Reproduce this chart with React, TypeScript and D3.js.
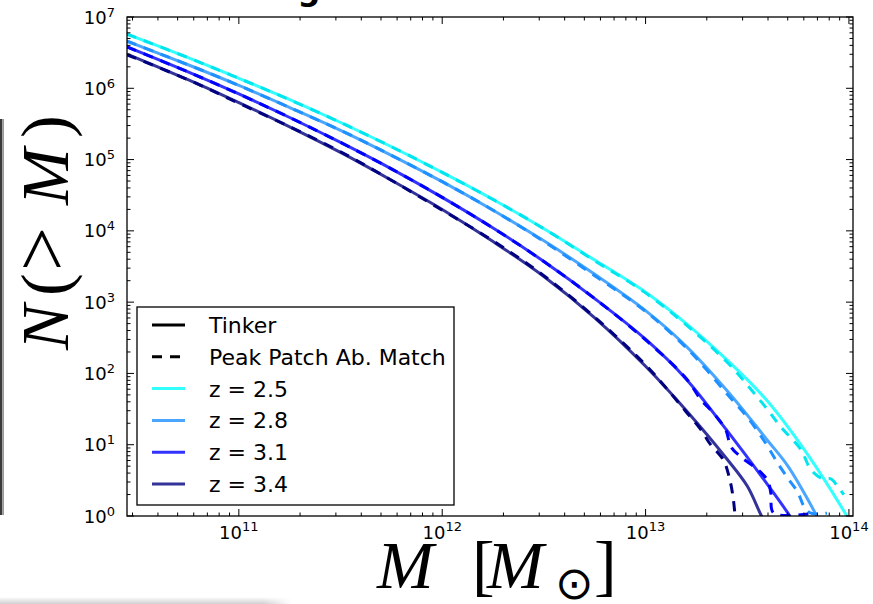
import React from "react";
import * as d3 from "d3";

const W = 873;
const H = 604;
const plot = { left: 127, top: 17, right: 853, bottom: 516 };

// axis extents (log10 of halo mass in solar masses, log10 of cumulative count)
const massExpRange = [10.45, 14.02];
const countExpRange = [0, 7];

const redshiftLabels = ["z = 2.5", "z = 2.8", "z = 3.1", "z = 3.4"];
const tinkerColors = ["#33ffff", "#4ba6ff", "#3333ff", "#333399"];
const peakColors = ["#00e5ee", "#1e90ff", "#0000ff", "#000080"];

// Tinker mass function, cumulative counts: log10 M and log10 N(>M)
const tinkerLogM_z25 = [10.45, 10.75, 11.0, 11.25, 11.5, 11.75, 12.0, 12.25, 12.5, 12.75, 13.0, 13.2, 13.4, 13.6, 13.8, 13.99, 14.02];
const tinkerLogN_z25 = [6.76, 6.43, 6.14, 5.84, 5.52, 5.18, 4.82, 4.44, 4.03, 3.59, 3.14, 2.7, 2.19, 1.61, 0.85, 0.0, -0.15];
const tinkerLogM_z28 = [10.45, 10.75, 11.0, 11.25, 11.5, 11.75, 12.0, 12.25, 12.5, 12.75, 13.0, 13.2, 13.4, 13.6, 13.7, 13.8, 13.86];
const tinkerLogN_z28 = [6.66, 6.33, 6.04, 5.73, 5.41, 5.06, 4.69, 4.29, 3.86, 3.39, 2.88, 2.38, 1.76, 1.06, 0.7, 0.22, -0.1];
const tinkerLogM_z31 = [10.45, 10.75, 11.0, 11.25, 11.5, 11.75, 12.0, 12.25, 12.5, 12.75, 13.0, 13.2, 13.4, 13.6, 13.7, 13.73];
const tinkerLogN_z31 = [6.58, 6.23, 5.92, 5.59, 5.24, 4.87, 4.47, 4.04, 3.57, 3.05, 2.48, 1.92, 1.2, 0.44, 0.04, -0.1];
const tinkerLogM_z34 = [10.45, 10.75, 11.0, 11.25, 11.5, 11.75, 12.0, 12.25, 12.5, 12.75, 13.0, 13.2, 13.4, 13.5, 13.57, 13.6];
const tinkerLogN_z34 = [6.48, 6.12, 5.8, 5.46, 5.1, 4.71, 4.3, 3.85, 3.36, 2.78, 2.1, 1.48, 0.8, 0.42, 0.0, -0.15];

// Peak Patch abundance-matched counts
const peakLogM_z25 = [10.45, 10.75, 11.0, 11.25, 11.5, 11.75, 12.0, 12.25, 12.5, 12.75, 13.0, 13.2, 13.4, 13.532, 13.6, 13.665, 13.764, 13.813, 13.872, 13.911, 13.946, 13.975];
const peakLogN_z25 = [6.76, 6.43, 6.14, 5.84, 5.52, 5.18, 4.82, 4.44, 4.03, 3.58, 3.13, 2.68, 2.16, 1.73, 1.49, 1.25, 0.93, 0.65, 0.52, 0.52, 0.41, 0.3];
const peakLogM_z28 = [10.45, 10.75, 11.0, 11.25, 11.5, 11.75, 12.0, 12.25, 12.5, 12.75, 13.0, 13.2, 13.3, 13.404, 13.502, 13.591, 13.65, 13.7, 13.749, 13.778, 13.813, 13.892];
const peakLogN_z28 = [6.66, 6.33, 6.04, 5.73, 5.41, 5.06, 4.69, 4.29, 3.85, 3.37, 2.87, 2.36, 2.05, 1.7, 1.38, 1.02, 0.74, 0.53, 0.33, 0.14, 0.04, 0.04];
const peakLogM_z31 = [10.45, 10.75, 11.0, 11.25, 11.5, 11.75, 12.0, 12.25, 12.5, 12.75, 13.0, 13.2, 13.27, 13.335, 13.394, 13.42, 13.468, 13.552, 13.6, 13.616, 13.63, 13.83];
const peakLogN_z31 = [6.58, 6.23, 5.92, 5.59, 5.24, 4.87, 4.47, 4.04, 3.57, 3.05, 2.47, 1.93, 1.64, 1.44, 1.21, 0.97, 0.83, 0.65, 0.5, 0.32, 0.04, 0.04];
const peakLogM_z34 = [10.45, 10.75, 11.0, 11.25, 11.5, 11.75, 12.0, 12.25, 12.5, 12.75, 13.0, 13.1, 13.2, 13.27, 13.32, 13.38, 13.41, 13.43, 13.44];
const peakLogN_z34 = [6.47, 6.12, 5.79, 5.46, 5.11, 4.71, 4.29, 3.86, 3.37, 2.79, 2.12, 1.8, 1.46, 1.22, 1.0, 0.8, 0.56, 0.27, 0.0];

const tinkerSeries = [
  [tinkerLogM_z25, tinkerLogN_z25],
  [tinkerLogM_z28, tinkerLogN_z28],
  [tinkerLogM_z31, tinkerLogN_z31],
  [tinkerLogM_z34, tinkerLogN_z34],
];
const peakSeries = [
  [peakLogM_z25, peakLogN_z25],
  [peakLogM_z28, peakLogN_z28],
  [peakLogM_z31, peakLogN_z31],
  [peakLogM_z34, peakLogN_z34],
];

const tickFont = "'DejaVu Sans', sans-serif";
const mathFont = "'Liberation Serif', 'Times New Roman', serif";

export default function App() {
  const x = d3
    .scaleLog()
    .domain([10 ** massExpRange[0], 10 ** massExpRange[1]])
    .range([plot.left, plot.right]);
  const y = d3
    .scaleLog()
    .domain([10 ** countExpRange[0], 10 ** countExpRange[1]])
    .range([plot.bottom, plot.top]);

  const line = d3
    .line<[number, number]>()
    .x((d) => x(10 ** d[0]))
    .y((d) => y(10 ** d[1]))
    .curve(d3.curveCatmullRom.alpha(0.5));

  const toPairs = (ms: number[], ns: number[]) =>
    ms.map((m, i) => [m, ns[i]] as [number, number]);

  const isMajor = (v: number) => Math.abs(Math.log10(v) - Math.round(Math.log10(v))) < 1e-9;
  const xTicks = x.ticks().filter((v) => v >= x.domain()[0] && v <= x.domain()[1] * 1.0001);
  const yTicks = y.ticks();

  const majorLen = 7;
  const minorLen = 3.5;
  const axisColor = "#000";

  const legendX = 137;
  const legendY = 307;
  const legendW = 317;
  const legendH = 198;
  const rowY0 = 325;
  const rowStep = 31.8;
  const legendRows = [
    { label: "Tinker", color: "#000", dash: null as string | null },
    { label: "Peak Patch Ab. Match", color: "#000", dash: "10,8" },
    ...redshiftLabels.map((label, i) => ({ label, color: tinkerColors[i], dash: null as string | null })),
  ];

  return (
    <svg
      width={W}
      height={H}
      viewBox={`0 0 ${W} ${H}`}
      style={{ position: "absolute", left: 0, top: 0, background: "#fff" }}
    >
      <defs>
        <clipPath id="plot-clip">
          <rect x={plot.left} y={plot.top} width={plot.right - plot.left} height={plot.bottom - plot.top} />
        </clipPath>
        <linearGradient id="shadow-bottom" x1="0" y1="0" x2="0" y2="1">
          <stop offset="0" stopColor="#ffffff" />
          <stop offset="1" stopColor="#cfcfcf" />
        </linearGradient>
        <linearGradient id="shadow-fade" x1="0" y1="0" x2="1" y2="0">
          <stop offset="0.9" stopColor="#fff" stopOpacity="0" />
          <stop offset="1" stopColor="#fff" stopOpacity="1" />
        </linearGradient>
      </defs>

      {/* page edge remnants */}
      <rect x={0} y={119} width={2.2} height={396} fill="#3a3a3a" />
      <rect x={2.2} y={119} width={1.8} height={396} fill="#9a9a9a" />
      <rect x={0} y={597} width={292} height={7} fill="url(#shadow-bottom)" />
      <rect x={0} y={597} width={292} height={7} fill="url(#shadow-fade)" />

      {/* title descender peeking above the frame */}
      <text x={309} y={0} fontFamily={tickFont} fontWeight="bold" fontSize={32} textAnchor="middle">
        g
      </text>

      {/* curves */}
      <g clipPath="url(#plot-clip)" fill="none">
        {tinkerSeries.map(([ms, ns], i) => (
          <path key={`t${i}`} d={line(toPairs(ms, ns)) || ""} stroke={tinkerColors[i]} strokeWidth={3} />
        ))}
        {peakSeries.map(([ms, ns], i) => (
          <path
            key={`p${i}`}
            d={line(toPairs(ms, ns)) || ""}
            stroke={peakColors[i]}
            strokeWidth={3}
            strokeDasharray="10,8"
          />
        ))}
      </g>

      {/* frame */}
      <rect
        x={plot.left}
        y={plot.top}
        width={plot.right - plot.left}
        height={plot.bottom - plot.top}
        fill="none"
        stroke={axisColor}
        strokeWidth={1.3}
      />

      {/* ticks, inward on all four sides */}
      <g stroke={axisColor} strokeWidth={1}>
        {xTicks.map((v, i) => {
          const px = x(v);
          const len = isMajor(v) ? majorLen : minorLen;
          return (
            <g key={`xt${i}`}>
              <line x1={px} x2={px} y1={plot.bottom} y2={plot.bottom - len} />
              <line x1={px} x2={px} y1={plot.top} y2={plot.top + len} />
            </g>
          );
        })}
        {yTicks.map((v, i) => {
          const py = y(v);
          const len = isMajor(v) ? majorLen : minorLen;
          return (
            <g key={`yt${i}`}>
              <line x1={plot.left} x2={plot.left + len} y1={py} y2={py} />
              <line x1={plot.right} x2={plot.right - len} y1={py} y2={py} />
            </g>
          );
        })}
      </g>

      {/* tick labels */}
      <g fontFamily={tickFont} fill="#000">
        {xTicks.filter(isMajor).map((v, i) => (
          <text key={`xl${i}`} x={x(v)} y={539} fontSize={18} textAnchor="middle">
            10
            <tspan fontSize={13} dy={-8}>
              {Math.round(Math.log10(v))}
            </tspan>
          </text>
        ))}
        {yTicks.filter(isMajor).map((v, i) => (
          <text key={`yl${i}`} x={115} y={y(v) + 6.5} fontSize={18} textAnchor="end">
            10
            <tspan fontSize={13} dy={-7}>
              {Math.round(Math.log10(v))}
            </tspan>
          </text>
        ))}
      </g>

      {/* legend */}
      <g>
        <rect x={legendX} y={legendY} width={legendW} height={legendH} fill="#fff" stroke="#000" strokeWidth={1.3} />
        {legendRows.map((r, i) => {
          const ry = rowY0 + i * rowStep;
          return (
            <g key={`lg${i}`}>
              <line
                x1={152}
                x2={185}
                y1={ry}
                y2={ry}
                stroke={r.color}
                strokeWidth={3}
                strokeDasharray={r.dash || undefined}
              />
              <text x={209} y={ry + 8} fontFamily={tickFont} fontSize={22} fill="#000">
                {r.label}
              </text>
            </g>
          );
        })}
      </g>

      {/* y axis label: N(>M) */}
      <g transform="translate(68,350) rotate(-90)">
        <text fontFamily={mathFont} fontSize={68} fill="#000">
          <tspan x={0} fontStyle="italic">N</tspan>
          <tspan x={54}>(</tspan>
          <tspan x={79} fontSize={78}>&gt;</tspan>
          <tspan x={145} fontStyle="italic">M</tspan>
          <tspan x={212}>)</tspan>
        </text>
      </g>

      {/* x axis label: M [M_sun] */}
      <text y={588} fontFamily={mathFont} fontSize={68} fill="#000">
        <tspan x={377} fontStyle="italic">M</tspan>
        <tspan x={472}>[</tspan>
        <tspan x={487} fontStyle="italic">M</tspan>
        <tspan x={555} dy={11} fontFamily={tickFont} fontSize={46}>⊙</tspan>
        <tspan x={594} dy={-11}>]</tspan>
      </text>
    </svg>
  );
}
